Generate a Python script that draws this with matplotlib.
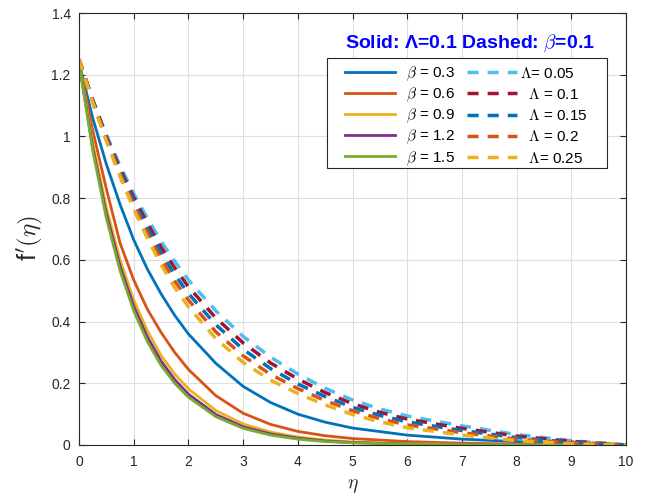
import matplotlib
matplotlib.use("Agg")
import matplotlib.pyplot as plt
from matplotlib.patches import Rectangle

plt.rcParams['font.family'] = ['Liberation Sans', 'DejaVu Sans']
plt.rcParams['mathtext.fontset'] = 'cm'

# ---- data ----
eta_solid = [0, 0.25, 0.5, 0.75, 1, 1.25, 1.5, 1.75, 2, 2.5, 3, 3.5, 4, 4.5, 5, 6, 7, 8, 9, 10]
beta_labels = [r"  $\beta$ = 0.3", r"  $\beta$ = 0.6", r"  $\beta$ = 0.9", r"  $\beta$ = 1.2", r"  $\beta$ = 1.5"]
f_beta03 = [1.24, 1.06, 0.91, 0.78, 0.665, 0.57, 0.49, 0.42, 0.36, 0.265, 0.19, 0.138, 0.10, 0.074, 0.055, 0.032, 0.019, 0.011, 0.005, 0.0]
f_beta06 = [1.24, 1.02, 0.83, 0.655, 0.535, 0.44, 0.365, 0.30, 0.245, 0.16, 0.103, 0.067, 0.044, 0.03, 0.021, 0.011, 0.006, 0.003, 0.001, 0.0]
f_beta09 = [1.24, 0.98, 0.77, 0.60, 0.47, 0.37, 0.29, 0.23, 0.182, 0.112, 0.068, 0.042, 0.026, 0.016, 0.01, 0.004, 0.002, 0.001, 0.0, 0.0]
f_beta12 = [1.24, 0.965, 0.75, 0.58, 0.45, 0.35, 0.272, 0.212, 0.165, 0.099, 0.059, 0.036, 0.022, 0.013, 0.008, 0.003, 0.001, 0.0, 0.0, 0.0]
f_beta15 = [1.24, 0.955, 0.735, 0.565, 0.435, 0.335, 0.258, 0.20, 0.155, 0.092, 0.054, 0.032, 0.019, 0.011, 0.007, 0.003, 0.001, 0.0, 0.0, 0.0]

eta_dash = [0, 0.25, 0.5, 0.75, 1, 1.25, 1.5, 1.75, 2, 2.5, 3, 3.5, 4, 4.5, 5, 5.5, 6, 7, 8, 9, 10]
lam_labels = [r"$\Lambda$= 0.05", r"  $\Lambda$ = 0.1", r"  $\Lambda$ = 0.15", r"  $\Lambda$ = 0.2", r"  $\Lambda$= 0.25"]
f_lam005 = [1.25, 1.12, 1.005, 0.905, 0.815, 0.735, 0.66, 0.595, 0.535, 0.435, 0.352, 0.285, 0.23, 0.184, 0.146, 0.117, 0.094, 0.062, 0.034, 0.014, 0.0]
f_lam010 = [1.25, 1.118, 1.0, 0.896, 0.802, 0.719, 0.641, 0.574, 0.513, 0.412, 0.331, 0.266, 0.214, 0.170, 0.134, 0.106, 0.084, 0.054, 0.029, 0.012, 0.0]
f_lam015 = [1.25, 1.115, 0.995, 0.888, 0.79, 0.702, 0.622, 0.552, 0.491, 0.39, 0.31, 0.248, 0.198, 0.157, 0.122, 0.096, 0.075, 0.047, 0.024, 0.009, 0.0]
f_lam020 = [1.25, 1.112, 0.99, 0.879, 0.777, 0.686, 0.604, 0.531, 0.47, 0.367, 0.289, 0.229, 0.183, 0.144, 0.111, 0.085, 0.065, 0.04, 0.019, 0.007, 0.0]
f_lam025 = [1.25, 1.11, 0.985, 0.87, 0.765, 0.67, 0.585, 0.51, 0.448, 0.345, 0.268, 0.21, 0.167, 0.13, 0.099, 0.075, 0.056, 0.032, 0.014, 0.004, 0.0]

x_ticks = [0, 1, 2, 3, 4, 5, 6, 7, 8, 9, 10]
y_ticks = [0, 0.2, 0.4, 0.6, 0.8, 1.0, 1.2, 1.4]
y_ticklabels = ["0", "0.2", "0.4", "0.6", "0.8", "1", "1.2", "1.4"]

solid_colors = ['#0072BD', '#D95319', '#EDB120', '#7E2F8E', '#77AC30']
dash_colors = ['#4DBEEE', '#A2142F', '#0072BD', '#D95319', '#EDB120']

W, H = 646, 501
fig = plt.figure(figsize=(W/100, H/100), dpi=100)
AX0, AX1, AY0, AY1 = 79, 626, 13, 445   # axes box in pixels (left, right, top, bottom)
ax = fig.add_axes([AX0/W, 1 - AY1/H, (AX1-AX0)/W, (AY1-AY0)/H])

def ax_x(px):
    return (px - AX0) / (AX1 - AX0)

def ax_y(py):
    return (AY1 - py) / (AY1 - AY0)

solid_handles = []
for ys, c, lab in zip([f_beta03, f_beta06, f_beta09, f_beta12, f_beta15], solid_colors, beta_labels):
    h, = ax.plot(eta_solid, ys, color=c, lw=2.0, label=lab)
    solid_handles.append(h)
dash_handles = []
for ys, c, lab in zip([f_lam005, f_lam010, f_lam015, f_lam020, f_lam025], dash_colors, lam_labels):
    h, = ax.plot(eta_dash, ys, color=c, lw=2.5, ls=(0, (3.2, 2.6)), label=lab)
    dash_handles.append(h)

ax.set_xlim(0, 10)
ax.set_ylim(0, 1.4)
ax.set_xticks(x_ticks)
ax.set_yticks(y_ticks)
ax.set_yticklabels(y_ticklabels)
ax.grid(True, color='#dedede', lw=0.8)
ax.set_axisbelow(True)
for s in ax.spines.values():
    s.set_color('#262626')
    s.set_linewidth(0.8)
ax.tick_params(direction='in', length=4, width=0.8, colors='#262626', labelsize=10,
               top=True, right=True)
ax.tick_params(axis='x', pad=7)
ax.tick_params(axis='y', pad=6)

ax.set_xlabel(r"$\eta$", fontsize=14, color='#262626', labelpad=6)
ax.set_ylabel(r"f$'(\eta)$", fontsize=18, color='#262626')
ax.yaxis.set_label_coords(ax_x(45), ax_y(238))

# legend box
ax.add_patch(Rectangle((ax_x(327), ax_y(168)), ax_x(607) - ax_x(327), ax_y(58) - ax_y(168),
                       transform=ax.transAxes, facecolor='white', edgecolor='#262626',
                       lw=0.8, zorder=4.5, clip_on=False))
fs_leg = 11
em = fs_leg * 100 / 72
leg1 = ax.legend(handles=solid_handles, loc='upper left',
                 bbox_to_anchor=(ax_x(345), ax_y(64.5)),
                 fontsize=fs_leg, frameon=False,
                 handlelength=50/em, handletextpad=3/em,
                 labelspacing=0.18, borderpad=0, borderaxespad=0)
leg1.set_zorder(5)
ax.add_artist(leg1)
leg2 = ax.legend(handles=dash_handles, loc='upper left',
                 bbox_to_anchor=(ax_x(467), ax_y(65.5)),
                 fontsize=fs_leg, frameon=False,
                 handlelength=50/em, handletextpad=3/em,
                 labelspacing=0.41, borderpad=0, borderaxespad=0)
leg2.set_zorder(5)

ax.text(ax_x(470), ax_y(43), r"Solid: Λ=0.1 Dashed: $\beta$=0.1",
        transform=ax.transAxes, ha='center', va='center', color='#0000FF',
        fontsize=14, fontweight='bold', zorder=6)

fig.savefig("out.png", dpi=100)
